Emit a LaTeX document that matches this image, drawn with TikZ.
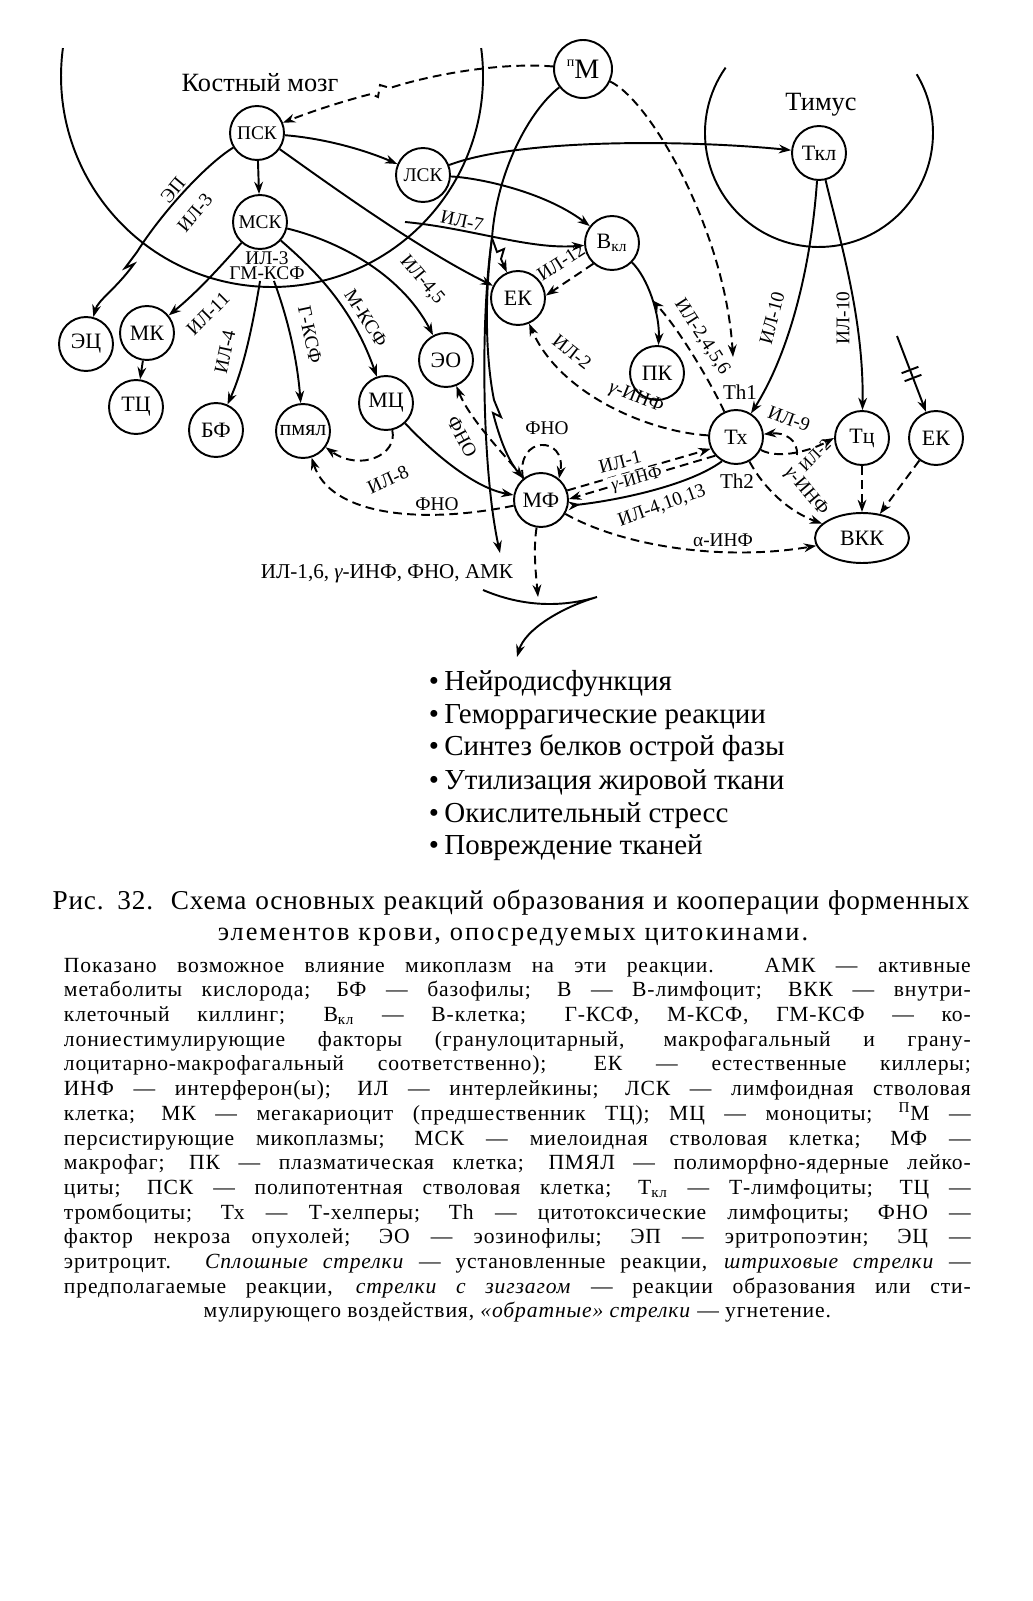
\documentclass[tikz,border=0pt]{standalone}
\usepackage{fontspec}
\setmainfont{Liberation Serif}
\newfontfamily\spacedfont[LetterSpace=4]{Liberation Serif}
\newfontfamily\capfont[LetterSpace=3]{Liberation Serif}
\newfontfamily\widefont[LetterSpace=8]{Liberation Serif}
\usetikzlibrary{arrows.meta, shapes.geometric}

\begin{document}
\begin{tikzpicture}[x=0.02cm, y=-0.02cm, line width=1.1pt,
  >={Stealth[length=7pt, width=5pt]},
  cell/.style={circle, draw, minimum size=1.08cm, inner sep=0pt,
    font=\fontsize{12.5}{14}\selectfont},
  stem/.style={cell, font=\fontsize{11}{12}\selectfont},
  lab/.style={inner sep=1pt, font=\fontsize{11}{13}\selectfont},
  dsh/.style={dash pattern=on 5pt off 3pt},
  item/.style={anchor=base west, inner sep=0pt, font=\fontsize{16.5}{18}\selectfont}]

%% page 1032 x 1601 px, 1 px = 0.02 cm, y grows downwards
\useasboundingbox (0,0) rectangle (1032,1601);

%% ---- Organs ----
\draw (62.9,48.1) arc[start angle=187.6, end angle=-7.6, radius=211];
\draw (725.6,67.6) arc[start angle=215, end angle=-31, radius=114];
\node[font=\fontsize{15}{17}\selectfont] (marrow) at (260,83) {Костный мозг};
\node[font=\fontsize{15}{17}\selectfont] (thymus) at (821,105) {Тимус};

%% ---- Cells ----
\node[stem] (psk) at (257,133) {ПСК};
\node[stem] (msk) at (260,222) {МСК};
\node[stem] (lsk) at (423,175) {ЛСК};
\node[cell] (erc) at (86,344) {ЭЦ};
\node[cell] (mk) at (147,333) {МК};
\node[cell] (trc) at (136,407) {ТЦ};
\node[cell] (bf) at (216,430) {БФ};
\node[cell, font=\fontsize{12.5}{13}\selectfont] (pmyal) at (303,431) {пмял};
\node[cell] (mc) at (386,403) {МЦ};
\node[cell] (eo) at (446,360) {ЭО};
\node[cell] (ek) at (518,298) {ЕК};
\node[cell] (mf) at (541,500) {МФ};
\node[cell, minimum size=1.16cm] (pm) at (583,69)
  {\raisebox{1.2ex}{\fontsize{8}{9}\selectfont п}\fontsize{16}{18}\selectfont М};
\node[cell] (tkl) at (819,153) {Ткл};
\node[cell] (vkl) at (612,243) {В\textsubscript{кл}};
\node[cell] (pk) at (657,373) {ПК};
\node[cell] (tx) at (736,437) {Тх};
\node[cell] (tcyt) at (862,438) {Тц};
\node[cell] (ek2) at (936,438) {ЕК};
\node[ellipse, draw, minimum width=1.88cm, minimum height=1cm, inner sep=0pt,
  font=\fontsize{12.5}{14}\selectfont] (vkk) at (862,538) {ВКК};

%% ---- Free ends ----
\coordinate (br) at (492,238);
\coordinate (il7) at (405,222);
\coordinate (th1in) at (733,357);
\coordinate (il2456) at (652,300);
\coordinate (il9) at (797,455);
\coordinate (ekblk) at (897,336);
\coordinate (out) at (500,553);
\coordinate (mfout) at (538,597);
\coordinate (zA) at (483,590);
\coordinate (zB) at (597,597);
\coordinate (zC) at (517,657);

%% ---- Bone marrow lines ----
\draw[->] (psk) -- (msk);
\draw[->] (psk) .. controls (320,138) and (360,148) .. (lsk);
\draw[->] (psk) .. controls (330,185) and (420,250) .. (ek);
\draw[->] (psk) .. controls (205,165) and (160,215) .. (137,252) -- (125,268)
  -- (134,264) .. controls (115,290) and (98,300) .. (erc);
\node[lab, rotate=50] (lEP) at (173,190) {ЭП};
\node[lab, rotate=50] (lIL3a) at (195,213) {ИЛ-3};
\draw[->] (msk) .. controls (228,258) and (200,290) .. (mk);
\node[lab, rotate=45] (lIL11) at (208,314) {ИЛ-11};
\draw[->] (mk) -- (trc);
\node[align=center, inner sep=0pt, font=\fontsize{11}{8.5}\selectfont] (gm) at (267,266)
  {ИЛ-3\\ГМ-КСФ};
\draw[->] (gm.245) .. controls (252,330) and (243,370) .. (bf);
\node[lab, rotate=78] (lIL4) at (225,352) {ИЛ-4};
\draw[->] (gm.295) .. controls (292,330) and (298,370) .. (pmyal);
\node[lab, rotate=-78] (lGKSF) at (310,335) {Г-КСФ};
\draw[->] (msk) .. controls (305,262) and (350,300) .. (mc);
\node[lab, rotate=-58] (lMKSF) at (366,318) {М-КСФ};
\draw[->] (msk) .. controls (335,240) and (400,272) .. (eo);
\node[lab, rotate=-50] (lIL45) at (422,280) {ИЛ-4,5};

%% ---- Lymphoid lines ----
\draw[->] (lsk) .. controls (520,138) and (690,140) .. (tkl);
\draw[->] (lsk) .. controls (480,178) and (545,192) .. (vkl);
\draw[->] (il7) .. controls (470,228) and (530,250) .. (vkl);
\node[lab, rotate=-12] (lIL7) at (462,221) {ИЛ-7};
\draw[->] (vkl) .. controls (648,278) and (660,315) .. (pk);
\draw[dsh, ->] (vkl.228) -- (ek.5);
\node[lab, rotate=33] (lIL12) at (561,262) {ИЛ-12};

%% ---- Mycoplasma ----
\draw[dsh, ->] (pm) .. controls (500,62) and (430,75) .. (390,88) -- (380,85)
  -- (378,97) -- (371,94) .. controls (340,102) and (310,112) .. (psk);
\draw[dsh, ->] (pm) .. controls (650,100) and (725,230) .. (th1in);
\draw (pm) .. controls (530,110) and (497,170) .. (br);
\draw[->] (br) -- (497,252) -- (504,249) -- (501,259) -- (ek);
\draw[->] (br) .. controls (484,300) and (486,360) .. (494,400) -- (501,417)
  -- (493,413) .. controls (500,440) and (508,460) .. (mf);
\draw[->] (br) .. controls (480,320) and (482,470) .. (out);

%% ---- Thymus lines ----
\draw[->] (tkl) .. controls (810,280) and (785,360) .. (tx);
\node[lab, rotate=75] (lIL10a) at (772,318) {ИЛ-10};
\draw[->] (tkl) .. controls (840,240) and (864,320) .. (tcyt);
\node[lab, rotate=90] (lIL10b) at (843,318) {ИЛ-10};
\draw[->] (ekblk) -- (ek2);
\draw (901.6,373.2) -- (918.4,366.8);
\draw (904.6,381.2) -- (921.4,374.8);

%% ---- T helper ----
\node[lab, font=\fontsize{12}{14}\selectfont] (th1) at (740,392) {Th1};
\node[lab, font=\fontsize{12}{14}\selectfont] (th2) at (737,481) {Th2};
\draw[dsh, ->] (tx) .. controls (650,432) and (560,395) .. (ek);
\node[lab, rotate=-38] (lIL2a) at (572,352) {ИЛ-2};
\node[lab, rotate=-22] (lINFa) at (636,398) {{\itshape γ}-ИНФ};
\draw[dsh, ->] (tx) .. controls (712,385) and (680,330) .. (il2456);
\node[lab, rotate=-57] (lIL2456) at (702,337) {ИЛ-2,4,5,6};
\draw[dsh, ->] (tx) .. controls (780,460) and (812,450) .. (tcyt.west);
\node[lab, rotate=45, font=\fontsize{9.5}{11}\selectfont] (lIL2b) at (815,455) {ИЛ-2};
\draw[dsh, ->] (il9) .. controls (798,440) and (785,432) .. (tx);
\node[lab, rotate=-20] (lIL9) at (789,419) {ИЛ-9};
\draw[dsh, ->] (tx) .. controls (765,490) and (790,512) .. (vkk);
\node[lab, rotate=-50] (lINFb) at (806,492) {{\itshape γ}-ИНФ};
\draw[dsh, ->] (tcyt) -- (vkk);
\draw[dsh, ->] (ek2) -- (vkk);

%% ---- Macrophage ----
\draw[dsh, ->] (mf.20) -- (tx.205);
\node[lab, rotate=15] (lIL1) at (620,462) {ИЛ-1};
\draw[dsh, ->] (tx.222) -- (mf.2);
\node[lab, rotate=15, fill=white, font=\fontsize{10}{12}\selectfont] (lINFc) at (637,480) {{\itshape γ}-ИНФ};
\draw[-{Stealth[length=7pt, width=5pt, reversed]}] (tx.240) .. controls (690,485) and (620,500) .. (mf.-12);
\node[lab, rotate=20] (lIL41013) at (662,506) {ИЛ-4,10,13};
\draw[dsh, ->] (mf) .. controls (620,545) and (720,562) .. (vkk);
\node[lab] (lINFa2) at (723,540) {α-ИНФ};
\draw[dsh, ->] (mf) .. controls (505,455) and (470,420) .. (eo);
\node[lab, rotate=-62] (lFNOa) at (462,437) {ФНО};
\draw[->] (mc) .. controls (435,455) and (475,488) .. (mf);
\draw[dsh, ->] (mc) .. controls (398,455) and (360,472) .. (pmyal);
\node[lab, rotate=25] (lIL8) at (388,480) {ИЛ-8};
\draw[dsh, ->] (mf) .. controls (420,525) and (330,515) .. (pmyal);
\node[lab] (lFNOb) at (437,504) {ФНО};
\draw[dsh, ->] (mf.130) .. controls (515,435) and (567,435) .. (mf.50);
\node[lab] (lFNOc) at (547,428) {ФНО};

%% ---- Output ----
\node[lab, anchor=base, font=\fontsize{12}{14}\selectfont] (cyto) at (387,578)
  {ИЛ-1,6, {\itshape γ}-ИНФ, ФНО, АМК};
\draw[dsh, ->] (mf) .. controls (533,550) and (536,575) .. (mfout);
\draw[->] (zA) .. controls (530,610) and (570,605) .. (zB)
  .. controls (560,608) and (525,630) .. (zC);

%% ---- Effects list ----
\node[item] (e1) at (428,690) {•\kern3pt Нейродисфункция};
\node[item] (e2) at (428,723) {•\kern3pt Геморрагические реакции};
\node[item] (e3) at (428,755) {•\kern3pt Синтез белков острой фазы};
\node[item] (e4) at (428,789) {•\kern3pt Утилизация жировой ткани};
\node[item] (e5) at (428,822) {•\kern3pt Окислительный стресс};
\node[item] (e6) at (428,854) {•\kern3pt Повреждение тканей};

%% ---- Caption ----
\node[anchor=base, inner sep=0pt, font=\capfont\fontsize{15.5}{17}\selectfont] (cap1) at (511,909)
  {\makebox[18.34cm][s]{Рис. 32.\ \ Схема основных реакций образования и кооперации форменных}};
\node[anchor=base, inner sep=0pt, font=\widefont\fontsize{15}{17}\selectfont] (cap2) at (513,940)
  {элементов крови, опосредуемых цитокинами.};
\node[anchor=north west, inner sep=0pt, align=left,
  font=\spacedfont\fontsize{12.3}{14.05}\selectfont] (legend) at (63,957) {%
\makebox[18.14cm][s]{Показано возможное влияние микоплазм на эти реакции. АМК — активные}\\
\makebox[18.14cm][s]{метаболиты кислорода; БФ — базофилы; В — В-лимфоцит; ВКК — внутри-}\\
\makebox[18.14cm][s]{клеточный киллинг; В\textsubscript{кл} — В-клетка; Г-КСФ, М-КСФ, ГМ-КСФ — ко-}\\
\makebox[18.14cm][s]{лониестимулирующие факторы (гранулоцитарный, макрофагальный и грану-}\\
\makebox[18.14cm][s]{лоцитарно-макрофагальный соответственно); ЕК — естественные киллеры;}\\
\makebox[18.14cm][s]{ИНФ — интерферон(ы); ИЛ — интерлейкины; ЛСК — лимфоидная стволовая}\\
\makebox[18.14cm][s]{клетка; МК — мегакариоцит (предшественник ТЦ); МЦ — моноциты; \textsuperscript{П}М —}\\
\makebox[18.14cm][s]{персистирующие микоплазмы; МСК — миелоидная стволовая клетка; МФ —}\\
\makebox[18.14cm][s]{макрофаг; ПК — плазматическая клетка; ПМЯЛ — полиморфно-ядерные лейко-}\\
\makebox[18.14cm][s]{циты; ПСК — полипотентная стволовая клетка; Т\textsubscript{кл} — Т-лимфоциты; ТЦ —}\\
\makebox[18.14cm][s]{тромбоциты; Тх — Т-хелперы; Th — цитотоксические лимфоциты; ФНО —}\\
\makebox[18.14cm][s]{фактор некроза опухолей; ЭО — эозинофилы; ЭП — эритропоэтин; ЭЦ —}\\
\makebox[18.14cm][s]{эритроцит. \textit{Сплошные стрелки} — установленные реакции, \textit{штриховые стрелки} —}\\
\makebox[18.14cm][s]{предполагаемые реакции, \textit{стрелки с зигзагом} — реакции образования или сти-}\\
\makebox[18.14cm][c]{мулирующего воздействия, \textit{«обратные» стрелки} — угнетение.}};
\end{tikzpicture}
\end{document}
